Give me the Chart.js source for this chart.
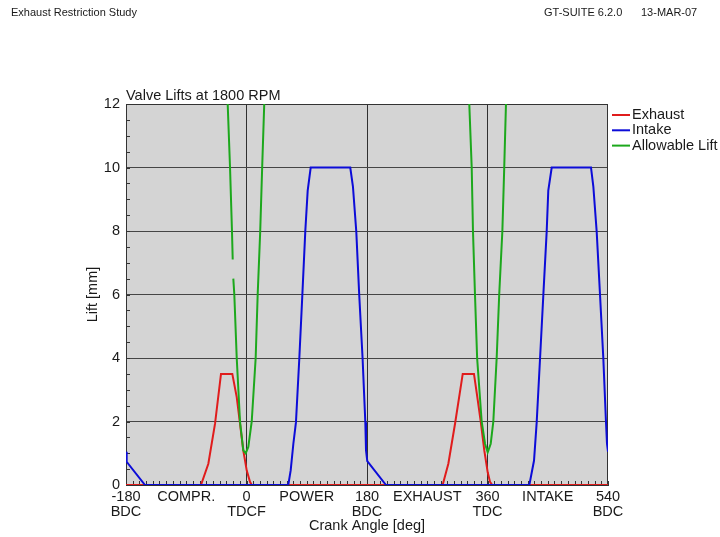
<!DOCTYPE html>
<html>
<head>
<meta charset="utf-8">
<title>Valve Lifts at 1800 RPM</title>
<script src="https://cdn.jsdelivr.net/npm/chart.js@4.4.1/dist/chart.umd.min.js"></script>
<style>
  html, body { margin: 0; padding: 0; background: #fff; }
  #wrap { width: 720px; height: 537px; }
</style>
</head>
<body>
<div id="wrap"><canvas id="chart" width="720" height="537"></canvas></div>
<script>
// crank angle [deg] / lift [mm] pairs for each valve trace
const exhaustAngle = [-180, -68, -57, -47, -38.1, -21.2, -14.6, -9.7, -4.8, 0.3, 5.2, 7.8,
                      293, 301.5, 311.5, 323, 339.8, 344.8, 349.9, 355.2, 360.3, 363.7, 367.2, 540];
const exhaustLift  = [0, 0, 0.67, 1.93, 3.5, 3.5, 2.77, 1.93, 1.09, 0.46, 0.1, 0,
                      0, 0.67, 1.93, 3.5, 3.5, 2.77, 2.0, 1.09, 0.4, 0.1, 0, 0];

const intakeAngle = [-180, -179, -151.6, 62.4, 66, 70, 73.9, 78.9, 83.4, 87.8, 91.4, 95.9,
                     155, 159, 164, 168.4, 173.4, 177.5, 178.5, 180.4, 208.4,
                     422.5, 429.5, 433.5, 438.5, 443.4, 448.4, 450.8, 455.9,
                     514.6, 518.1, 523.1, 528.1, 533, 537, 538.5, 540];
const intakeLift  = [1.05, 0.73, 0, 0, 0.46, 1.3, 1.98, 3.99, 5.98, 7.98, 9.27, 10,
                     10, 9.4, 7.98, 5.98, 3.99, 1.98, 1.1, 0.75, 0,
                     0, 0.77, 1.98, 3.99, 5.98, 7.98, 9.27, 10,
                     10, 9.4, 7.98, 5.98, 3.99, 1.98, 1.3, 1.05];

// null entries break the line (gap in the left flank near TDCF, and between the two dips)
const allowAngle = [-28.1, -24.6, -21.7, -20.6, -20.2, -19.7, -18.2, -14.6, -9.7, -4.8, -1.2,
                    2.7, 7.8, 13.7, 16.7, 20.5, 23.4, 26.5, 180,
                    332.8, 336.4, 338.3, 341.3, 344.5, 351.3, 356.3, 360.3,
                    364.8, 368.7, 373.7, 377.5, 382.2, 385, 387.6];
const allowLift  = [12, 10, 8, 7.1, null, 6.5, 6, 4, 2, 1.09, 1.0,
                    1.2, 2, 4, 6, 8, 10, 12, null,
                    12, 10, 8, 6, 4, 2, 1.3, 1.03,
                    1.3, 2, 4, 6, 8, 10, 12];

const xTickValues = [-180, -90, 0, 90, 180, 270, 360, 450, 540];
const xTickLabels = [['-180', 'BDC'], 'COMPR.', ['0', 'TDCF'], 'POWER', ['180', 'BDC'],
                     'EXHAUST', ['360', 'TDC'], 'INTAKE', ['540', 'BDC']];
const xMajorLines = [0, 180, 360];
const yTickValues = [0, 2, 4, 6, 8, 10, 12];
const yTickLabels = ['0', '2', '4', '6', '8', '10', '12'];

const FONT = "'Liberation Sans', Arial, sans-serif";
Chart.defaults.font.family = FONT;
Chart.defaults.font.size = 14.5;
Chart.defaults.color = '#1a1a1a';

const pairs = (xs, ys) => xs.map((x, i) => ({ x: x, y: ys[i] }));

// background, minor ticks, frame, header texts and legend
const decor = {
  id: 'decor',
  beforeDraw(chart) {
    const { ctx, chartArea: a } = chart;
    ctx.save();
    ctx.fillStyle = '#fff';
    ctx.fillRect(0, 0, chart.width, chart.height);
    ctx.fillStyle = '#d4d4d4';
    ctx.fillRect(a.left, a.top, a.right - a.left, a.bottom - a.top);
    ctx.restore();
  },
  beforeDatasetsDraw(chart) {
    const { ctx, chartArea: a, scales: { x, y } } = chart;
    ctx.save();
    ctx.strokeStyle = '#333';
    ctx.lineWidth = 1;
    ctx.beginPath();
    for (let d = -180; d <= 540; d += 10) {
      const px = Math.round(x.getPixelForValue(d)) + 0.5;
      ctx.moveTo(px, a.bottom);
      ctx.lineTo(px, a.bottom - 4);
    }
    for (let v = 0; v <= 12; v += 0.5) {
      const py = Math.round(y.getPixelForValue(v)) + 0.5;
      ctx.moveTo(a.left, py);
      ctx.lineTo(a.left + 4, py);
    }
    ctx.stroke();
    ctx.strokeRect(Math.round(a.left) + 0.5, Math.round(a.top) + 0.5,
                   Math.round(a.right - a.left) - 1, Math.round(a.bottom - a.top) - 1);
    ctx.restore();
  },
  afterDraw(chart) {
    const { ctx, chartArea: a } = chart;
    ctx.save();
    ctx.fillStyle = '#1a1a1a';
    ctx.textBaseline = 'middle';
    ctx.font = '11px ' + FONT;
    ctx.fillText('Exhaust Restriction Study', 11, 13);
    ctx.fillText('GT-SUITE 6.2.0', 544, 13);
    ctx.fillText('13-MAR-07', 641, 13);

    ctx.font = '14.5px ' + FONT;
    ctx.textBaseline = 'alphabetic';
    ctx.fillText('Valve Lifts at 1800 RPM', a.left, 99.5);

    ctx.textBaseline = 'middle';
    chart.data.datasets.forEach((ds, i) => {
      const ly = 115 + i * 15.3;
      ctx.strokeStyle = ds.borderColor;
      ctx.lineWidth = 2;
      ctx.beginPath();
      ctx.moveTo(612, ly);
      ctx.lineTo(630, ly);
      ctx.stroke();
      ctx.fillText(ds.label, 632, ly);
    });
    ctx.restore();
  }
};

new Chart(document.getElementById('chart'), {
  type: 'line',
  data: {
    datasets: [
      { label: 'Exhaust', data: pairs(exhaustAngle, exhaustLift), borderColor: '#e01c1c', order: 3 },
      { label: 'Intake', data: pairs(intakeAngle, intakeLift), borderColor: '#0c0cd8', order: 2 },
      { label: 'Allowable Lift', data: pairs(allowAngle, allowLift), borderColor: '#1ca81c', order: 1 }
    ]
  },
  options: {
    responsive: false,
    animation: false,
    parsing: true,
    elements: {
      line: { borderWidth: 2, tension: 0, fill: false },
      point: { radius: 0 }
    },
    layout: { padding: { left: 84, right: 112, top: 104, bottom: 2 } },
    plugins: { legend: { display: false }, tooltip: { enabled: false } },
    scales: {
      x: {
        type: 'linear',
        min: -180,
        max: 540,
        afterFit: s => { s.height = 50; },
        afterBuildTicks: s => { s.ticks = xTickValues.map(v => ({ value: v })); },
        ticks: {
          autoSkip: false,
          maxRotation: 0,
          padding: 4,
          font: { lineHeight: 1.05 },
          callback: v => xTickLabels[xTickValues.indexOf(v)]
        },
        grid: {
          drawTicks: false,
          lineWidth: 1,
          color: c => (c.tick && xMajorLines.includes(c.tick.value)) ? '#303030' : 'rgba(0,0,0,0)'
        },
        border: { color: '#303030' },
        title: { display: true, text: 'Crank Angle [deg]', padding: 0 }
      },
      y: {
        min: 0,
        max: 12,
        afterFit: s => { s.width = 42; },
        afterBuildTicks: s => { s.ticks = yTickValues.map(v => ({ value: v })); },
        ticks: {
          padding: 6,
          callback: v => yTickLabels[yTickValues.indexOf(v)]
        },
        grid: { drawTicks: false, color: '#454545', lineWidth: 1 },
        border: { color: '#303030' },
        title: { display: true, text: 'Lift [mm]', padding: 0 }
      }
    }
  },
  plugins: [decor]
});
</script>
</body>
</html>
